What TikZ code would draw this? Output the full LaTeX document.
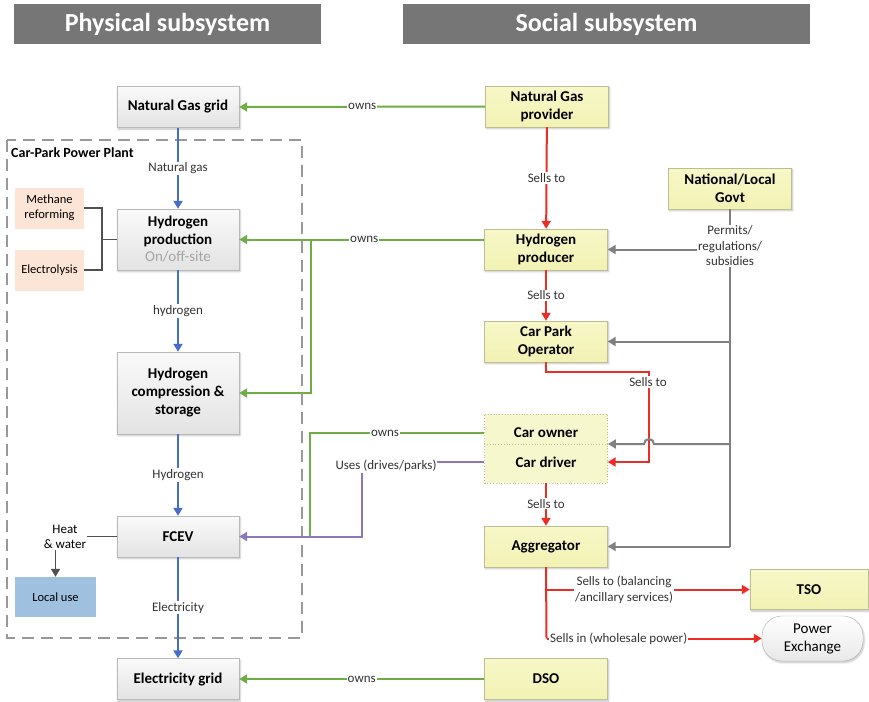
\documentclass[tikz,border=0pt]{standalone}
\usepackage{fontspec}
\setmainfont{Carlito}
\usetikzlibrary{arrows.meta,shadows.blur}

\definecolor{hdrgray}{RGB}{118,118,118}
\definecolor{flowblue}{RGB}{68,110,200}
\definecolor{owngreen}{RGB}{112,173,71}
\definecolor{sellred}{RGB}{235,45,35}
\definecolor{usepurple}{RGB}{142,118,184}
\definecolor{govgray}{RGB}{128,128,128}
\definecolor{linkgray}{RGB}{80,80,80}
\definecolor{yelfill}{RGB}{242,242,180}
\definecolor{yeltop}{RGB}{247,247,200}
\definecolor{yelline}{RGB}{190,190,150}
\definecolor{peach}{RGB}{252,228,214}
\definecolor{localblue}{RGB}{160,192,224}
\definecolor{subgray}{RGB}{165,165,165}

\tikzset{
  x=1pt, y=-1pt,
  fbig/.style={font=\fontsize{15}{18}\selectfont\bfseries},
  flab/.style={font=\fontsize{13}{15.5}\selectfont},
  fsmall/.style={font=\fontsize{12.5}{15}\selectfont},
  header/.style={fill=hdrgray, text=white, minimum height=40pt,
    font=\fontsize{26}{30}\selectfont\bfseries},
  shadowed/.style={blur shadow={shadow blur steps=5, shadow xshift=1pt,
    shadow yshift=-1.5pt, shadow opacity=25}},
  physbox/.style={fbig, draw=gray!55, top color=gray!4, bottom color=gray!22,
    minimum width=122pt, minimum height=41pt, align=center, inner sep=2pt, shadowed},
  socbox/.style={fbig, draw=yelline, top color=yeltop, bottom color=yelfill,
    minimum width=123pt, minimum height=41pt, align=center, inner sep=2pt, shadowed},
  techbox/.style={fsmall, fill=peach, minimum width=69pt, minimum height=41pt,
    align=center, inner sep=1pt},
  elabel/.style={flab, fill=white, inner sep=1pt, align=center, text=black!80},
  tip/.style={-{Triangle[width=9pt,length=8pt]}},
  flow/.style={tip, draw=flowblue, line width=2pt},
  ownline/.style={draw=owngreen, line width=2pt},
  own/.style={tip, ownline},
  sell/.style={tip, draw=sellred, line width=2pt},
  sellline/.style={draw=sellred, line width=2pt},
  useline/.style={draw=usepurple, line width=2pt},
  govline/.style={draw=govgray, line width=2pt},
  gov/.style={tip, govline},
  link/.style={draw=linkgray, line width=1.6pt},
}

\begin{document}
\begin{tikzpicture}
\useasboundingbox (0,0) rectangle (869,701);

% headers
\node[header, minimum width=307pt] (hphys) at (167.5,24.5) {Physical subsystem};
\node[header, minimum width=407pt] (hsoc) at (606.5,24.5) {Social subsystem};

% car-park power plant boundary
\draw[draw=gray!80, line width=2pt, dash pattern=on 12pt off 7pt] (7,140) rectangle (302,638);
\node[anchor=west, font=\fontsize{14}{16}\selectfont\bfseries, inner sep=0pt] (cppp) at (11,153) {Car-Park Power Plant};

% physical subsystem
\node[physbox] (nggrid) at (178,107) {Natural Gas grid};
\node[physbox, minimum height=61pt] (h2prod) at (178,239.5) {Hydrogen\\production\\[-1pt]{\mdseries\color{subgray}On/off-site}};
\node[physbox, minimum height=82pt] (h2comp) at (178,393) {Hydrogen\\compression \&\\storage};
\node[physbox] (fcev) at (178,536.5) {FCEV};
\node[physbox] (egrid) at (178,679) {Electricity grid};

\node[techbox] (meth) at (49.5,208) {Methane\\reforming};
\node[techbox] (elys) at (49.5,270) {Electrolysis};
\node[fsmall, fill=localblue, minimum width=81pt, minimum height=40pt] (local) at (55.5,597) {Local use};
\node[flab, align=center, inner sep=1pt] (heat) at (65,537) {Heat\\\& water};

% social subsystem
\node[socbox] (ngprov) at (547,106.5) {Natural Gas\\provider};
\node[socbox] (govt) at (730,188.5) {National/Local\\Govt};
\node[socbox] (h2p) at (546,249.5) {Hydrogen\\producer};
\node[socbox] (cpo) at (546,341.5) {Car Park\\Operator};
\node[draw=yelline, dotted, thick, fill=yelfill!65, minimum width=123pt, minimum height=69pt] (cars) at (546,448.5) {};
\node[fbig, minimum width=123pt, minimum height=28pt] (owner) at (546,433) {Car owner};
\node[fbig, minimum width=123pt, minimum height=28pt] (driver) at (546,462) {Car driver};
\draw[yelline, dotted, thick] (cars.west |- 0,444) -- (cars.east |- 0,444);
\node[socbox] (agg) at (546,546.5) {Aggregator};
\node[socbox, minimum width=118pt, minimum height=40pt] (tso) at (809,589.5) {TSO};
\node[draw=gray!60, top color=white, bottom color=gray!18, rounded corners=20pt,
      minimum width=101pt, minimum height=45pt, align=center, shadowed,
      font=\fontsize{15}{18}\selectfont] (pex) at (812.5,638.5) {Power\\Exchange};
\node[socbox] (dso) at (546,679) {DSO};

% physical flows
\draw[flow] (nggrid) -- (h2prod) node[elabel, pos=0.5] (lng) {Natural gas};
\draw[flow] (h2prod) -- (h2comp) node[elabel, pos=0.5] (lh2a) {hydrogen};
\draw[flow] (h2comp) -- (fcev) node[elabel, pos=0.5] (lh2b) {Hydrogen};
\draw[flow] (fcev) -- (egrid) node[elabel, pos=0.5] (lel) {Electricity};

% production technologies
\coordinate (techj) at (102,239.5);
\draw[link] (meth.east) -| (techj) |- (elys.east);
\draw[link] (techj) -- (h2prod.west);
\coordinate (heatj) at (87,536.5);
\draw[link] (fcev.west) -- (heatj);
\draw[link, tip] (heat.south -| local.north) -- (local.north);

% ownership
\draw[own] (ngprov.west) -- (nggrid.east) node[elabel, pos=0.5] (lo1) {owns};
\coordinate (h2j) at (311,239.5);
\draw[own] (h2p.west |- h2prod.east) -- (h2prod.east) node[elabel, pos=0.49] (lo2) {owns};
\draw[own] (h2j) |- (h2comp.east);
\coordinate (fcevj) at (310,536.5);
\draw[ownline] (owner.west) -| (fcevj);
\node[elabel] (lo3) at (385,433) {owns};
\draw[own] (dso.west) -- (egrid.east) node[elabel, pos=0.5] (lo4) {owns};

% usage
\coordinate (usej) at (362,462);
\draw[useline, tip] (driver.west) -- (usej) |- (fcev.east);
\node[elabel] (luse) at (386,466) {Uses (drives/parks)};

% sales
\draw[sell] (ngprov) -- (h2p) node[elabel, pos=0.5] (ls1) {Sells to};
\draw[sell] (h2p) -- (cpo) node[elabel, pos=0.5] (ls2) {Sells to};
\coordinate (cpoj) at (649,372);
\draw[sellline, tip] (cpo.south) |- (cpoj) |- (driver.east);
\node[elabel] (ls3) at (648,382) {Sells to};
\draw[sell] (cars.south) -- (agg.north) node[elabel, pos=0.48] (ls4) {Sells to};
\coordinate (aggj1) at (546.5,589.5);
\coordinate (aggj2) at (546.5,638.5);
\draw[sellline] (agg.south) -- (aggj2);
\draw[sell] (aggj1) -- (tso.west);
\draw[sell] (aggj2) -- (pex.west);
\node[elabel] (ls5) at (624,590) {Sells to (balancing\\/ancillary services)};
\node[elabel, anchor=west] (ls6) at (549,638.5) {Sells in (wholesale power)};

% regulation
\coordinate (gj1) at (730,249.5);
\coordinate (gj2) at (730,341.5);
\coordinate (gj3) at (730,444);
\coordinate (gj4) at (730,546.5);
\draw[govline] (govt.south) -- (gj4);
\draw[gov] (gj1) -- (h2p.east);
\draw[gov] (gj2) -- (cpo.east);
\draw[gov] (gj3) -- (654,444) arc[start angle=0, end angle=-180, radius=5] -- (cars.east |- gj3);
\draw[gov] (gj4) -- (agg.east);
\node[elabel] (lpr) at (730,246) {Permits/\\regulations/\\subsidies};
\end{tikzpicture}
\end{document}
